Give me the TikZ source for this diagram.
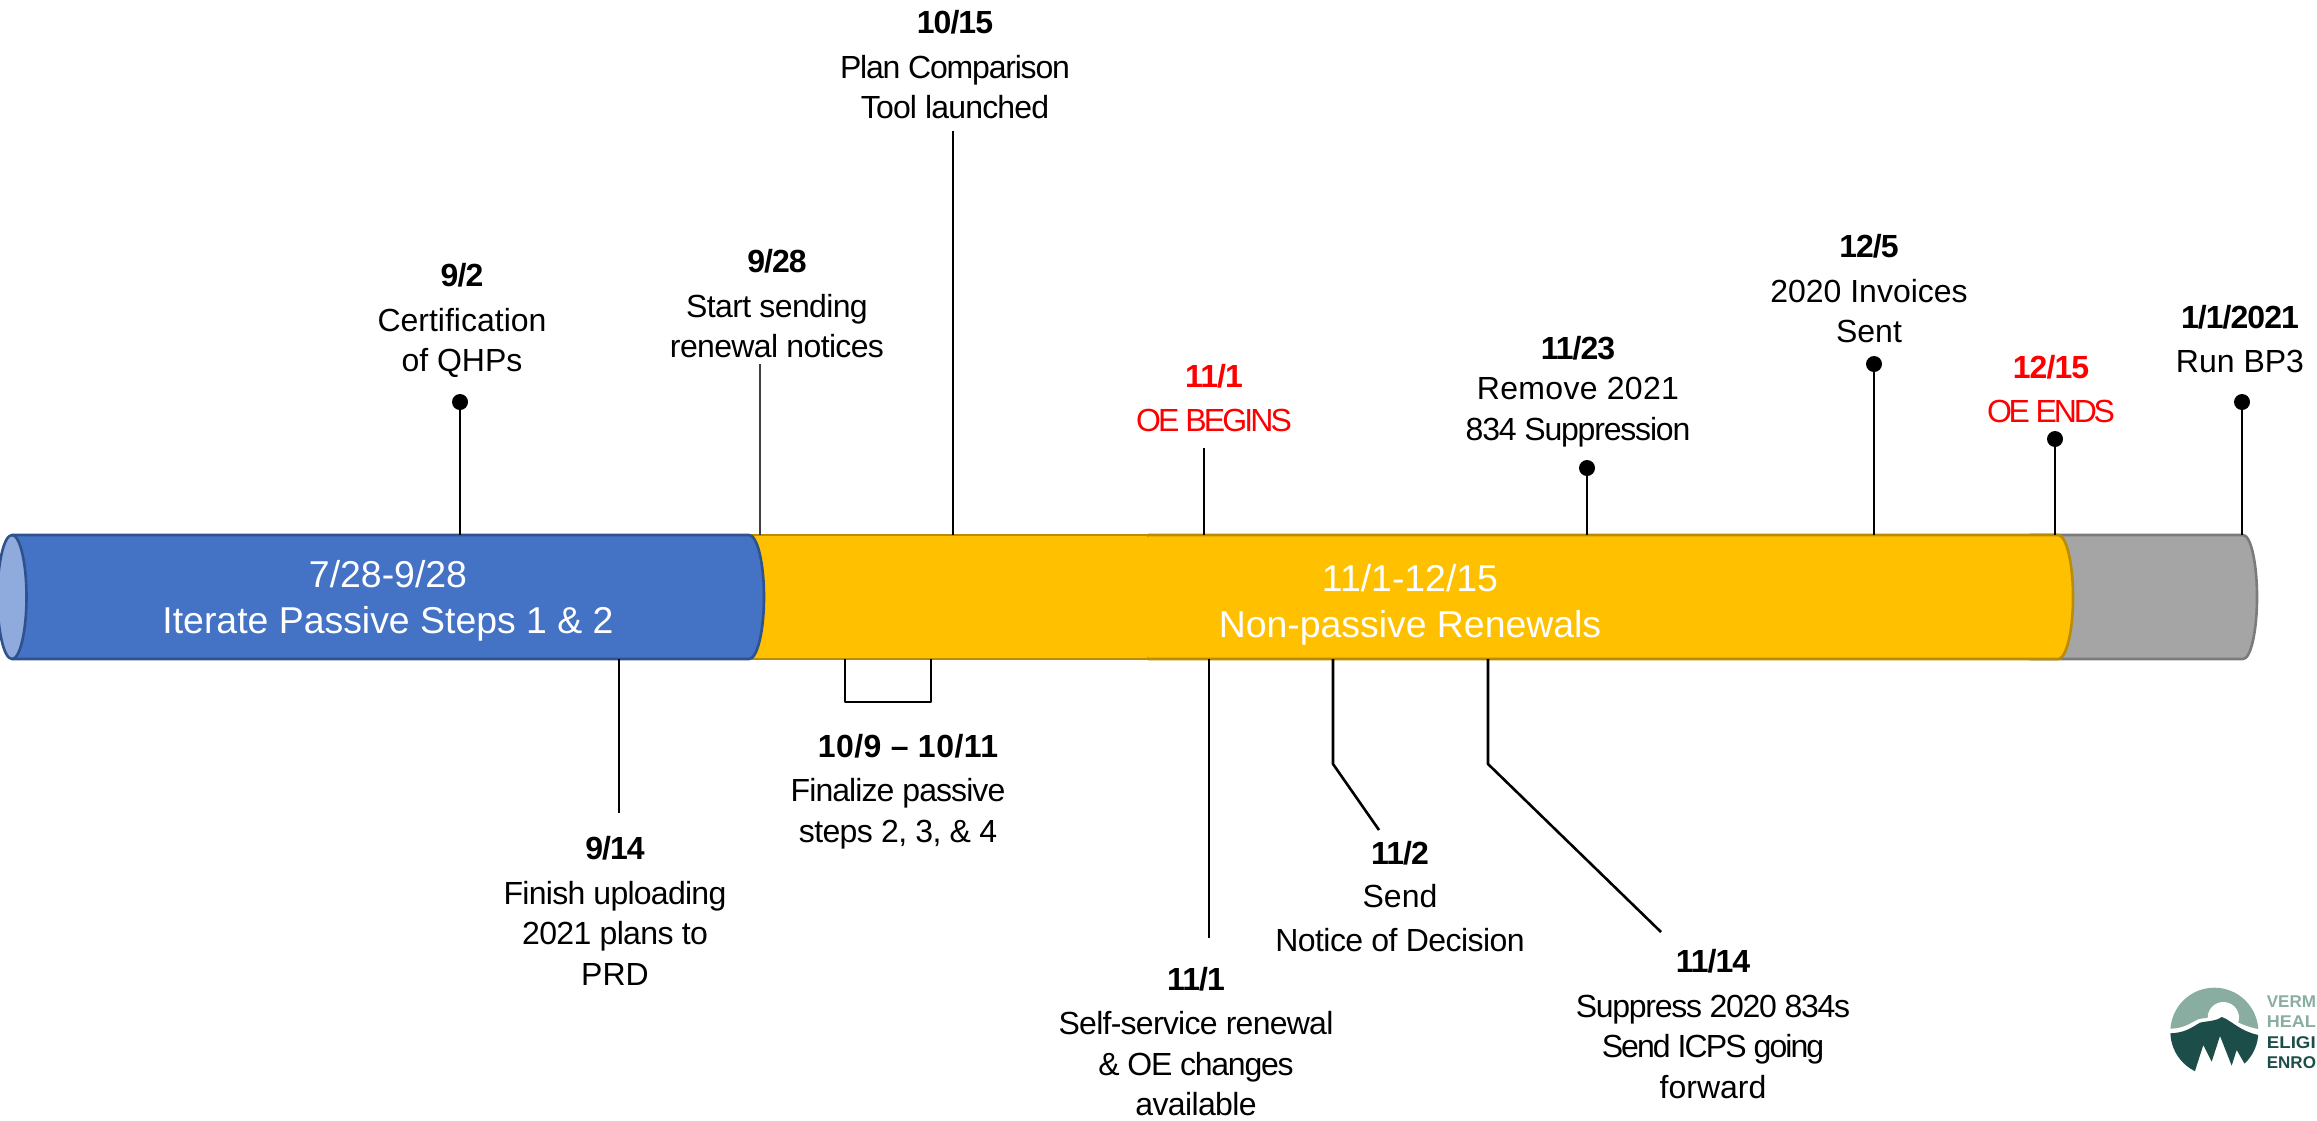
\documentclass[tikz,border=0pt]{standalone}
\usepackage{fontspec}
\setmainfont{Liberation Sans}
\definecolor{bluefill}{HTML}{4472C4}
\definecolor{blueedge}{HTML}{2F528F}
\definecolor{bluecap}{HTML}{8FAADC}
\definecolor{yellowfill}{HTML}{FFC000}
\definecolor{yellowedge}{HTML}{BC8C00}
\definecolor{grayfill}{HTML}{A5A5A5}
\definecolor{grayedge}{HTML}{7B7B7B}
\definecolor{logolight}{HTML}{8AADA1}
\definecolor{logodark}{HTML}{1C4D48}
\definecolor{notered}{HTML}{FF0000}
\newcommand\trk[2]{{\addfontfeature{LetterSpace=#1}#2}}
\newcommand\dte[1]{{\bfseries\addfontfeature{LetterSpace=-3}#1}}
\tikzset{
  x=1pt,y=-1pt,
  note/.style={align=center,inner sep=0pt,text=black,font=\fontsize{32}{40.5}\selectfont},
  rednote/.style={note,text=notered},
  bartext/.style={align=center,inner sep=0pt,text=white,font=\fontsize{37.4}{46}\selectfont},
  logotext/.style={anchor=west,inner sep=0pt,font=\fontsize{17}{17}\selectfont\bfseries},
  pin/.style={circle,fill=black,draw=none,inner sep=0pt,minimum size=16pt},
  leader/.style={draw=black,line width=2.6pt,line join=round},
  thinleader/.style={draw=black!75,line width=1.8pt},
  tube/.style={line width=2.6pt,line join=round},
}
\begin{document}
\begin{tikzpicture}
\useasboundingbox (0,0) rectangle (2317,1120);
% tube
\path[tube,fill=grayfill,draw=grayedge]
  (2030,535) -- (2243,535) arc[start angle=-90,end angle=90,x radius=14,y radius=62] -- (2030,659) -- cycle;
\path[tube,fill=yellowfill,draw=yellowedge]
  (740,535) -- (1148,535) -- (1148,659) -- (740,659) -- cycle;
\path[tube,fill=yellowfill,draw=yellowedge]
  (1148,535) -- (2058,535) arc[start angle=-90,end angle=90,x radius=15,y radius=62] -- (1148,659);
\path[fill=yellowfill] (1140,537) rectangle (1156,657);
\path[tube,fill=bluefill,draw=blueedge]
  (12,535) -- (749,535) arc[start angle=-90,end angle=90,x radius=15,y radius=62] -- (12,659) -- cycle;
\path[tube,fill=bluecap,draw=blueedge] (12,597) ellipse[x radius=14.5,y radius=62];
% bar labels
\node[bartext] (passive) at (388,601) {7/28-9/28\\Iterate Passive Steps 1 \& 2};
\node[bartext] (nonpassive) at (1410,605) {11/1-12/15\\Non-passive Renewals};
% bar anchors, top
\coordinate (ta) at (460,535);
\coordinate (tb) at (760,535);
\coordinate (tc) at (953,535);
\coordinate (td) at (1204,535);
\coordinate (te) at (1587,535);
\coordinate (tf) at (1874,535);
\coordinate (tg) at (2055,535);
\coordinate (th) at (2242,535);
% bar anchors, bottom
\coordinate (ba) at (619,659);
\coordinate (bb1) at (845,659);
\coordinate (bb2) at (931,659);
\coordinate (bc) at (1209,659);
\coordinate (bd) at (1333,659);
\coordinate (be) at (1488,659);
% pins and free ends
\node[pin] (pa) at (460,402) {};
\node[pin] (pe) at (1587,468) {};
\node[pin] (pf) at (1874,364) {};
\node[pin] (pg) at (2055,439) {};
\node[pin] (ph) at (2242,402) {};
\coordinate (fb) at (760,364);
\coordinate (fc) at (953,131);
\coordinate (fd) at (1204,448);
\coordinate (ea) at (619,813);
\coordinate (eb1) at (845,702);
\coordinate (eb2) at (931,702);
\coordinate (ec) at (1209,938);
\coordinate (ed1) at (1333,764);
\coordinate (ed2) at (1379,830);
\coordinate (ee1) at (1488,764);
\coordinate (ee2) at (1661,932);
% connectors
\draw[leader] (pa) -- (ta);
\draw[thinleader] (fb) -- (tb);
\draw[leader] (fc) -- (tc);
\draw[leader] (fd) -- (td);
\draw[leader] (pe) -- (te);
\draw[leader] (pf) -- (tf);
\draw[leader] (pg) -- (tg);
\draw[leader] (ph) -- (th);
\draw[leader] (ba) -- (ea);
\draw[leader] (bb1) -- (eb1) -- (eb2) -- (bb2);
\draw[leader] (bc) -- (ec);
\draw[leader] (bd) -- (ed1) -- (ed2);
\draw[leader] (be) -- (ee1) -- (ee2);
% notes above
\node[note] (na) at (462,320.5) {\dte{9/2}\\[4pt]Certification\\of QHPs};
\node[note] (nb) at (777,304) {\dte{9/28}\\[4pt]\trk{-2}{Start sending}\\\trk{-2}{renewal notices}};
\node[note] (nc) at (955,65) {\dte{10/15}\\[4pt]\trk{-3.75}{Plan Comparison}\\\trk{-2.6}{Tool launched}};
\node[rednote] (nd) at (1214,398) {\dte{11/1}\\[4pt]\trk{-9}{OE BEGINS}};
\node[note] (ne) at (1578,391.5) {\dte{11/23}\\[0pt]\trk{1}{Remove 2021}\\\trk{-3.7}{834 Suppression}};
\node[note] (nf) at (1869,289) {\dte{12/5}\\[4pt]2020 Invoices\\Sent};
\node[rednote] (ng) at (2051,389) {\dte{12/15}\\[4pt]\trk{-10}{OE ENDS}};
\node[note] (nh) at (2240,339) {\dte{1/1/2021}\\[4pt]Run BP3};
% notes below
\node[note] (ni) at (615,911) {\dte{9/14}\\[4pt]\trk{-2.3}{Finish uploading}\\\trk{-2}{2021 plans to}\\PRD};
\node[note] (nj) at (898,791.5) {\hspace*{20pt}{\bfseries\addfontfeature{LetterSpace=1.5}10/9 – 10/11}\\[4pt]\trk{-2.9}{Finalize passive}\\\trk{-2}{steps 2, 3, \& 4}};
\node[note] (nk) at (1196,1041.5) {\dte{11/1}\\[4pt]\trk{-2.3}{Self-service renewal}\\\trk{-3.8}{\& OE changes}\\\trk{-2}{available}};
\node[note] (nl) at (1400,897) {\dte{11/2}\\[2pt]Send\\[4pt]\trk{-1.8}{Notice of Decision}};
\node[note] (nm) at (1713,1024) {\dte{11/14}\\[4pt]\trk{-4}{Suppress 2020 834s}\\\trk{-6}{Send ICPS going}\\forward};
% logo
\begin{scope}[shift={(2100,950)},x=0.3333pt,y=-0.3333pt]
  \begin{scope}
    \clip (343,245) circle[radius=132];
    \path[fill=logolight] (200,100) rectangle (490,236);
    \path[fill=white] (370,203) circle[radius=47];
    \path[fill=white] (200,236) .. controls (250,238) and (270,220) .. (295,208) .. controls (320,200) and (340,210) .. (365,197) .. controls (390,200) and (420,230) .. (490,240) -- (490,260) -- (200,260) -- cycle;
    \path[fill=logodark] (205,250) .. controls (255,250) and (275,232) .. (300,218) .. controls (325,212) and (345,215) .. (365,201) .. controls (390,208) and (420,245) .. (480,256)
      -- (480,360) -- (437,347) -- (410,300) -- (395,347) -- (360,258) -- (335,335) -- (310,285) -- (280,378) -- (200,378) -- cycle;
  \end{scope}
  \node[logotext,text=logolight] (l1) at (500,155) {VERM};
  \node[logotext,text=logolight] (l2) at (500,214) {\addfontfeature{FakeStretch=1.06}HEAL};
  \node[logotext,text=logodark] (l3) at (500,278) {\addfontfeature{FakeStretch=1.1}ELIGI};
  \node[logotext,text=logodark] (l4) at (500,337) {ENRO};
\end{scope}
\end{tikzpicture}
\end{document}
